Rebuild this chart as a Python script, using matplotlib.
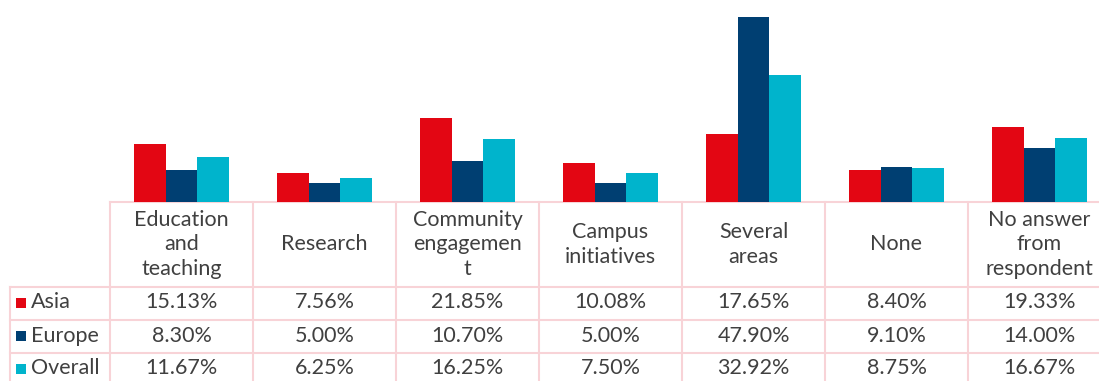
import numpy as np
from matplotlib import pyplot as plt

categories = ["Education\nand\nteaching", "Research", "Community\nengagemen\nt",
              "Campus\ninitiatives", "Several\nareas", "None", "No answer\nfrom\nrespondent"]
series = ["Asia", "Europe", "Overall"]
asia = [15.13, 7.56, 21.85, 10.08, 17.65, 8.40, 19.33]
europe = [8.30, 5.00, 10.70, 5.00, 47.90, 9.10, 14.00]
overall = [11.67, 6.25, 16.25, 7.50, 32.92, 8.75, 16.67]
colors = ["#E30613", "#003F72", "#00B4CC"]

W, H = 1099, 381
border = "#F8D3D7"
text_col = "#404040"
font = "Lato"
fs = 15.5

fig = plt.figure(figsize=(W / 100, H / 100), dpi=100)

# layout in pixels
col0, colw = 110, 143
base_y, top_y = 202, 9
row_edges = [202, 287, 320, 353, 386]
label_left = 10

ax = fig.add_axes([col0 / W, 1 - base_y / H, len(categories) * colw / W, (base_y - top_y) / H])
x = np.arange(len(categories))
bw = 1 / 4.5
for i, vals in enumerate([asia, europe, overall]):
    ax.bar(x + (i - 1) * bw, vals, width=bw, color=colors[i], linewidth=0)
ax.set_xlim(-0.5, len(categories) - 0.5)
ax.set_ylim(0, 50)
ax.axis("off")

# data table drawn in pixel coordinates
tab = fig.add_axes([0, 0, 1, 1], zorder=-1)
tab.set_xlim(0, W)
tab.set_ylim(H, 0)
tab.axis("off")

right = col0 + len(categories) * colw
lw = 1.5
# horizontal lines
tab.plot([col0, right], [row_edges[0]] * 2, color=border, lw=lw)
for y in row_edges[1:4]:
    tab.plot([label_left, right], [y, y], color=border, lw=lw)
# vertical lines
tab.plot([label_left, label_left], [row_edges[1], H], color=border, lw=lw)
for j in range(len(categories) + 1):
    xe = col0 + j * colw
    tab.plot([xe, xe], [row_edges[0], H], color=border, lw=lw)

for j, cat in enumerate(categories):
    cx = col0 + (j + 0.5) * colw
    tab.text(cx, (row_edges[0] + row_edges[1]) / 2, cat, ha="center", va="center",
             fontsize=fs, color=text_col, family=font, linespacing=1.28)

for i, (name, vals) in enumerate(zip(series, [asia, europe, overall])):
    cy = (row_edges[i + 1] + row_edges[i + 2]) / 2 - 1
    tab.add_patch(plt.Rectangle((16, cy - 5), 10, 10, color=colors[i], lw=0))
    tab.text(31, cy, name, ha="left", va="center", fontsize=fs, color=text_col, family=font)
    for j, v in enumerate(vals):
        tab.text(col0 + (j + 0.5) * colw, cy, f"{v:.2f}%", ha="center", va="center",
                 fontsize=fs, color=text_col, family=font)

fig.savefig("out.png", dpi=100)
